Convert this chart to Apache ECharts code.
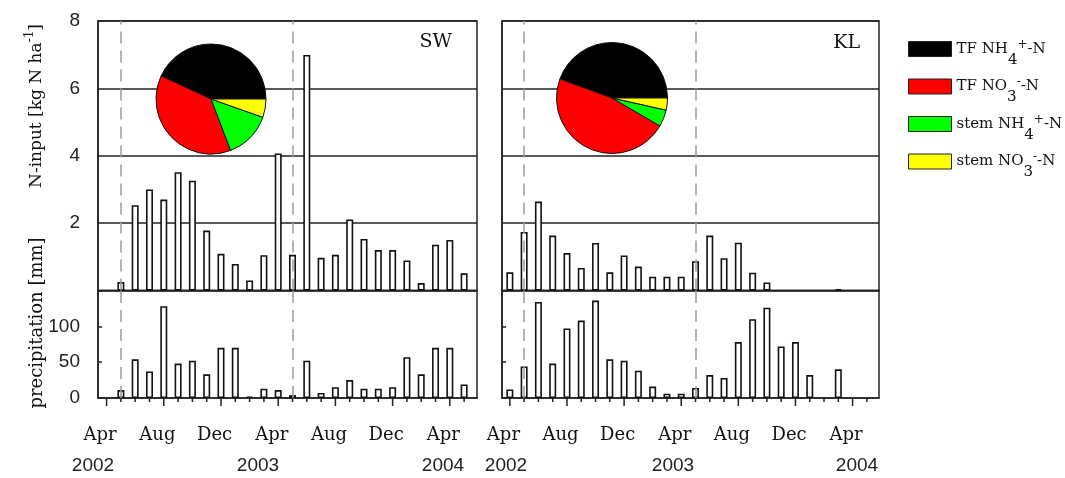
<!DOCTYPE html>
<html><head><meta charset="utf-8">
<script src="https://cdn.jsdelivr.net/npm/echarts@6/dist/echarts.min.js"></script>
<style>html,body{margin:0;padding:0;background:#fff}#c{width:1065px;height:478px}</style>
</head><body><div id="c"></div>
<script>
// month index: 0 = April 2002
const monthNames = ['Apr','Aug','Dec','Apr','Aug','Dec','Apr'];
const labelMonths = [-0.45, 3.55, 7.55, 11.55, 15.55, 19.55, 23.55];
const majorTickMonths = [0, 4, 8, 12, 16, 20, 24];
const minorTickMonths = [1,2,3,5,6,7,9,10,11,13,14,15,17,18,19,21,22,23,25];
const yearLabels = ['2002', '2003', '2004'];
const dashMonths = [1, 13];

const swMonths = [1,2,3,4,5,6,7,8,9,10,11,12,13,14,15,16,17,18,19,20,21,22,23,24,25];
const swNinput = [0.25,2.53,3.00,2.70,3.51,3.26,1.78,1.09,0.79,0.30,1.05,4.07,1.06,6.99,0.97,1.06,2.11,1.53,1.20,1.20,0.89,0.22,1.36,1.50,0.51];
const swPrecip = [11,54,37,128,48,52,33,70,70,2,13,11,4,52,7,15,25,13,13,15,57,33,70,70,19];

const klMonths = [0,1,2,3,4,5,6,7,8,9,10,11,12,13,14,15,16,17,18,19,20,21,22,23];
const klNinput = [0.54,1.74,2.64,1.63,1.11,0.67,1.41,0.54,1.04,0.71,0.41,0.41,0.41,0.87,1.63,0.96,1.42,0.53,0.24,null,null,null,null,0.04];
const klPrecip = [12,44,134,48,97,108,136,54,52,38,16,6,6,14,32,28,78,110,126,72,78,32,null,40];

const pieNames = ['TF NH4+-N','TF NO3--N','stem NH4+-N','stem NO3--N'];
const pieLabels = ['TF NH{sub|4}{sup|+}-N','TF NO{sub|3}{sup|-}-N','stem NH{sub|4}{sup|+}-N','stem NO{sub|3}{sup|-}-N'];
const pieColors = ['#000000','#ff0000','#00ff00','#ffff00'];
const swPie = [43.1, 37.7, 13.8, 5.4];
const klPie = [44.4, 47.2, 4.9, 3.5];

const SERIF = 'DejaVu Serif';
const SANS = 'Liberation Sans';
const ink = '#111';

function pairs(xs, ys){ return xs.map((x,i)=>[x, ys[i]]); }
function pieData(vals){ return vals.map((v,i)=>({name:pieNames[i], value:v, itemStyle:{color:pieColors[i]}})); }

const grids = [
  {left:98, top:21, width:379, height:269.5},
  {left:98, top:290.5, width:379, height:107.5},
  {left:502, top:21, width:377, height:269.5},
  {left:502, top:290.5, width:377, height:107.5}
].map(g=>Object.assign(g,{show:true, borderColor:'#222', borderWidth:1.5, containLabel:false}));

const xL = {min:-0.6, max:25.9};
const xR = {min:-0.55, max:25.85};

function topX(grid, ext){
  return Object.assign({type:'value', gridIndex:grid, axisLine:{show:false, onZero:false}, axisTick:{show:false}, axisLabel:{show:false}, splitLine:{show:false}}, ext);
}
function bottomX(grid, ext){
  return Object.assign({type:'value', gridIndex:grid, position:'bottom',
    axisLine:{show:true, onZero:false, lineStyle:{color:'#222', width:1.5}},
    axisTick:{show:false},
    axisLabel:{show:true, customValues:labelMonths, margin:28, fontFamily:SERIF, fontSize:18, color:ink,
      formatter:(v)=>monthNames[labelMonths.indexOf(v)] || ''},
    splitLine:{show:false}}, ext);
}
function nY(grid, labels){
  return {type:'value', gridIndex:grid, min:0, max:8, interval:2,
    axisLine:{show:true, onZero:false, lineStyle:{color:'#222', width:1.5}},
    axisTick:{show:false},
    axisLabel:{show:labels, margin:18, fontFamily:SANS, fontSize:19, color:'#222', formatter:(v)=> v===0 ? '' : String(v)},
    splitLine:{show:true, lineStyle:{color:'#222', width:1.5}}};
}
function pY(grid, labels){
  return {type:'value', gridIndex:grid, min:0, max:150, interval:50,
    axisLine:{show:true, onZero:false, lineStyle:{color:'#222', width:1.5}},
    axisTick:{show:true, inside:true, length:4, lineStyle:{color:'#222', width:1.5}},
    axisLabel:{show:labels, margin:18, fontFamily:SANS, fontSize:19, color:'#222', formatter:(v)=> v>100 ? '' : String(v)},
    splitLine:{show:false}};
}

const dashLine = {symbol:'none', silent:true, label:{show:false},
  lineStyle:{color:'#9a9a9a', type:[12,7], width:1.5},
  data: dashMonths.map(m=>({xAxis:m}))};

const barStyle = {color:'#fff', borderColor:'#111', borderWidth:1.6};
function barSeries(xi, yi, data){
  return {type:'bar', xAxisIndex:xi, yAxisIndex:yi, data:data, barWidth:7, itemStyle:barStyle,
    markLine:dashLine, animation:false, z:3};
}
function tickSeries(xi, yi, months, len){
  return {type:'custom', xAxisIndex:xi, yAxisIndex:yi, clip:false, silent:true, z:6, animation:false,
    data: months.map(m=>[m, 0]),
    renderItem:(params, api)=>{
      const p = api.coord([api.value(0), 0]);
      return {type:'line', shape:{x1:p[0], y1:p[1], x2:p[0], y2:p[1]+len},
        style:{stroke:'#222', lineWidth:1.5}};
    }};
}

const richText = {
  sub:{fontFamily:SERIF, fontSize:15, padding:[22,0,0,0], lineHeight:20},
  sup:{fontFamily:SERIF, fontSize:12, padding:[0,0,9,0], lineHeight:20}
};

const option = {
  animation:false,
  backgroundColor:'#fff',
  grid: grids,
  xAxis: [topX(0,xL), bottomX(1,xL), topX(2,xR), bottomX(3,xR)],
  yAxis: [nY(0,true), pY(1,true), nY(2,false), pY(3,false)],
  legend: {
    orient:'vertical', left:903, top:25.5, icon:'rect', itemWidth:43, itemHeight:15, itemGap:0.5,
    data: pieNames,
    formatter:(name)=>pieLabels[pieNames.indexOf(name)],
    itemStyle:{borderColor:'#222', borderWidth:1},
    textStyle:{fontFamily:SERIF, fontSize:15, color:ink, lineHeight:20, rich:richText},
    selectedMode:false
  },
  series: [
    barSeries(0,0,pairs(swMonths, swNinput)),
    barSeries(1,1,pairs(swMonths, swPrecip)),
    barSeries(2,2,pairs(klMonths, klNinput)),
    barSeries(3,3,pairs(klMonths, klPrecip)),
    tickSeries(1,1,majorTickMonths,8),
    tickSeries(1,1,minorTickMonths,4),
    tickSeries(3,3,majorTickMonths,8),
    tickSeries(3,3,minorTickMonths,4),
    {type:'pie', center:[211,99], radius:55, startAngle:0, clockwise:false, label:{show:false}, labelLine:{show:false},
      itemStyle:{borderColor:'#111', borderWidth:1}, data:pieData(swPie), z:5, silent:true},
    {type:'pie', center:[612,98], radius:55.5, startAngle:0, clockwise:false, label:{show:false}, labelLine:{show:false},
      itemStyle:{borderColor:'#111', borderWidth:1}, data:pieData(klPie), z:5, silent:true}
  ],
  graphic: [
    {type:'text', x:452, y:42, style:{text:'SW', fontFamily:SERIF, fontSize:19, fill:ink, align:'right', verticalAlign:'middle'}},
    {type:'text', x:860, y:43, style:{text:'KL', fontFamily:SERIF, fontSize:19, fill:ink, align:'right', verticalAlign:'middle'}},
    {type:'text', x:37, y:106, rotation:Math.PI/2, style:{text:'N-input [kg N ha{sup|-1}]', fontFamily:SERIF, fontSize:17, fill:ink, align:'center', verticalAlign:'middle', lineHeight:20,
      rich:{sup:{fontFamily:SERIF, fontSize:12, padding:[0,0,14,0], lineHeight:20}}}},
    {type:'text', x:37, y:323, rotation:Math.PI/2, style:{text:'precipitation [mm]', fontFamily:SERIF, fontSize:18, fill:ink, align:'center', verticalAlign:'middle'}},
    {type:'text', x:93, y:466, style:{text:yearLabels[0], fontFamily:SANS, fontSize:19, fill:'#222', align:'center', verticalAlign:'middle'}},
    {type:'text', x:258, y:466, style:{text:yearLabels[1], fontFamily:SANS, fontSize:19, fill:'#222', align:'center', verticalAlign:'middle'}},
    {type:'text', x:443, y:466, style:{text:yearLabels[2], fontFamily:SANS, fontSize:19, fill:'#222', align:'center', verticalAlign:'middle'}},
    {type:'text', x:506, y:466, style:{text:yearLabels[0], fontFamily:SANS, fontSize:19, fill:'#222', align:'center', verticalAlign:'middle'}},
    {type:'text', x:673, y:466, style:{text:yearLabels[1], fontFamily:SANS, fontSize:19, fill:'#222', align:'center', verticalAlign:'middle'}},
    {type:'text', x:857, y:466, style:{text:yearLabels[2], fontFamily:SANS, fontSize:19, fill:'#222', align:'center', verticalAlign:'middle'}}
  ]
};
const chart = echarts.init(document.getElementById('c'), null, {renderer:'canvas'});
chart.setOption(option);
</script>
</body></html>
